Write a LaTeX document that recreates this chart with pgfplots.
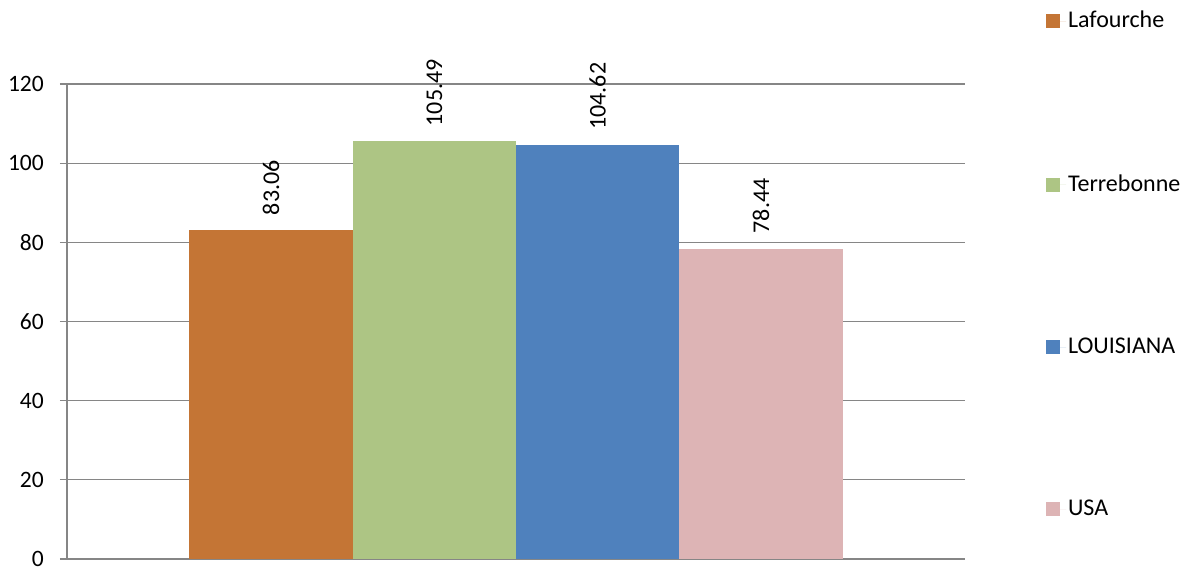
\documentclass[border=0pt]{standalone}
\usepackage{pgfplots}
\pgfplotsset{compat=1.18}
\usepackage{fontspec}
\setmainfont{Carlito}
\definecolor{cLaf}{HTML}{C47535}
\definecolor{cTer}{HTML}{ADC584}
\definecolor{cLou}{HTML}{4F81BD}
\definecolor{cUSA}{HTML}{DDB4B5}
\definecolor{gridc}{HTML}{868686}
\begin{document}
\fontsize{24pt}{28pt}\selectfont
\begin{tikzpicture}
\path[use as bounding box] (0,0) rectangle (1183pt,568pt);
\begin{axis}[
  at={(67pt,9pt)}, anchor=south west,
  scale only axis, width=898pt, height=475pt,
  xmin=-0.25, xmax=5.25, ymin=0, ymax=120,
  ytick={0,20,...,120}, xtick=\empty,
  ymajorgrids, grid style={gridc, line width=1.3pt},
  axis x line=bottom, axis y line=left,
  axis line style={gridc, line width=1.3pt, -},
  tick style={gridc, line width=1.3pt},
  tick align=outside, major tick length=7pt,
  ytick pos=left,
  yticklabel style={xshift=-8pt},
  /pgf/number format/assume math mode=true,
  ticklabel style={font=\fontsize{23.5pt}{27pt}\selectfont},
  ybar, bar width=1, bar shift=0pt,
  nodes near coords,
  nodes near coords style={rotate=90, anchor=west, inner xsep=15pt, inner ysep=0pt,
    font=\fontsize{24pt}{28pt}\selectfont, /pgf/number format/fixed, /pgf/number format/precision=2, /pgf/number format/fixed zerofill, /pgf/number format/assume math mode=true},
  legend style={draw=none, at={(1.090,1.158)}, anchor=north west, row sep=139pt,
    font=\fontsize{24pt}{28pt}\selectfont, inner sep=0pt},
  legend cell align=left,
  legend image code/.code={\fill[#1,draw=none] (0pt,-7pt) rectangle (14pt,7pt); \path (0pt,0pt) -- (20pt,0pt);},
]
\addplot[fill=cLaf, draw=none] coordinates {(1,83.06)};
\addplot[fill=cTer, draw=none] coordinates {(2,105.49)};
\addplot[fill=cLou, draw=none] coordinates {(3,104.62)};
\addplot[fill=cUSA, draw=none] coordinates {(4,78.44)};
\legend{Lafourche, Terrebonne, LOUISIANA, USA}
\end{axis}
\end{tikzpicture}
\end{document}
